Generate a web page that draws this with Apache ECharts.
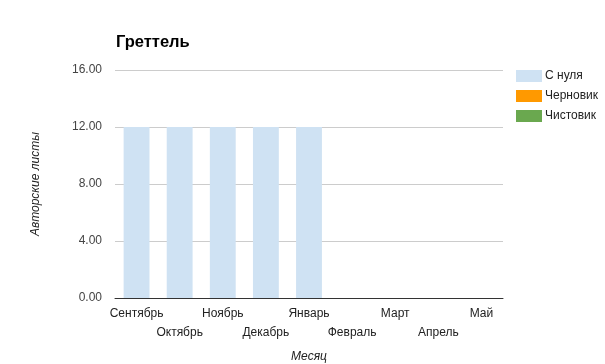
<!DOCTYPE html>
<html><head><meta charset="utf-8">
<script src="https://cdn.jsdelivr.net/npm/echarts@6/dist/echarts.min.js"></script>
<style>html,body{margin:0;padding:0;background:#fff}#c{width:605px;height:364px}</style>
</head><body><div id="c"></div>
<script>
var months = ['Сентябрь','Октябрь','Ноябрь','Декабрь','Январь','Февраль','Март','Апрель','Май'];
var fromScratch = [12, 12, 12, 12, 12, 0, 0, 0, 0];
var draft = [0, 0, 0, 0, 0, 0, 0, 0, 0];
var clean = [0, 0, 0, 0, 0, 0, 0, 0, 0];
var seriesNames = ['С нуля','Черновик','Чистовик'];
var yTicks = [0, 4, 8, 12, 16];

var chart = echarts.init(document.getElementById('c'));
var font = 'Liberation Sans, Arial, sans-serif';
chart.setOption({
  animation: false,
  textStyle: {fontFamily: font},
  title: {text: 'Греттель', left: 111, top: 29, textStyle: {fontFamily: font, fontSize: 16.5, fontWeight: 'bold', color: '#000'}},
  color: ['#cfe2f3', '#ff9900', '#6aa84f'],
  legend: {
    orient: 'vertical', left: 516, top: 70, padding: 0, itemWidth: 26, itemHeight: 12, itemGap: 8,
    icon: 'rect', data: seriesNames,
    textStyle: {fontFamily: font, fontSize: 12, color: '#222', padding: [0,0,0,-2]}
  },
  grid: {left: 115, right: 102, top: 70, bottom: 66, outerBoundsMode: 'none'},
  xAxis: {
    type: 'category', data: months,
    name: 'Месяц', nameLocation: 'middle', nameGap: 53,
    nameTextStyle: {fontFamily: font, fontSize: 12, fontStyle: 'italic', color: '#222'},
    axisLine: {lineStyle: {color: '#333'}}, axisTick: {show: false},
    axisLabel: {interval: 0, color: '#222', fontSize: 12, fontFamily: font, lineHeight: 19, margin: 6,
      formatter: function(v, i){ return i % 2 ? '\n' + v : v; }}
  },
  yAxis: {
    type: 'value', min: yTicks[0], max: yTicks[yTicks.length-1], interval: 4,
    name: 'Авторские листы', nameLocation: 'middle', nameGap: 73,
    nameTextStyle: {fontFamily: font, fontSize: 12, fontStyle: 'italic', color: '#222'},
    axisLine: {show: false}, axisTick: {show: false},
    axisLabel: {color: '#444', fontSize: 12, fontFamily: font, margin: 13, formatter: function(v){ return v.toFixed(2); }},
    splitLine: {lineStyle: {color: '#ccc'}}
  },
  series: [
    {name: seriesNames[0], type: 'bar', stack: 's', data: fromScratch, barWidth: '60%'},
    {name: seriesNames[1], type: 'bar', stack: 's', data: draft},
    {name: seriesNames[2], type: 'bar', stack: 's', data: clean}
  ]
});
</script></body></html>
